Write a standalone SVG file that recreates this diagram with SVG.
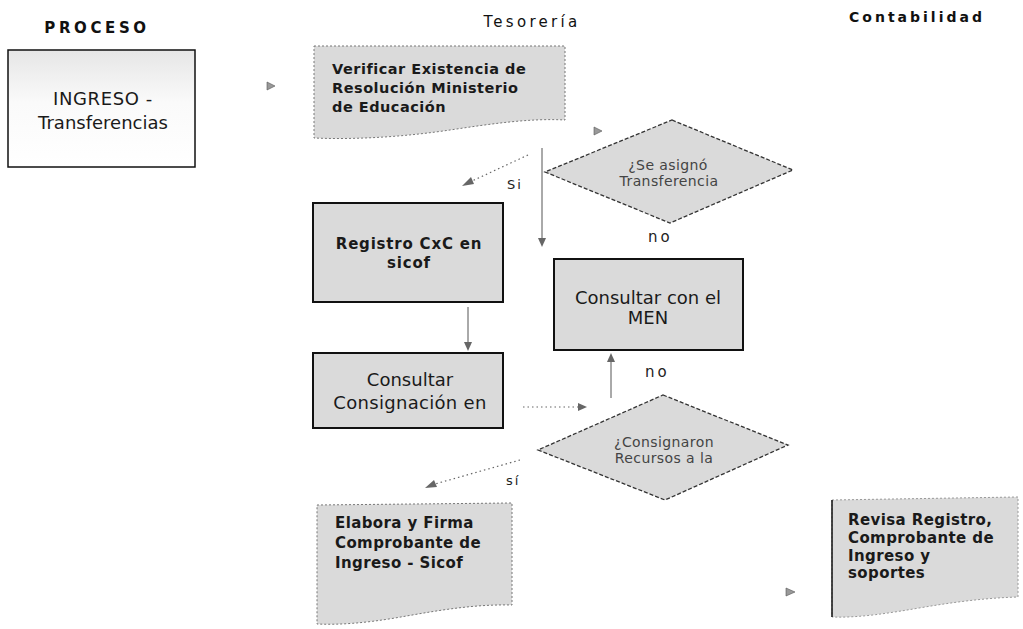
<svg xmlns="http://www.w3.org/2000/svg" width="1023" height="629" viewBox="0 0 1023 629">
<defs>
<style>
.hdr{font-family:"DejaVu Sans",sans-serif;font-weight:bold;font-size:14px;letter-spacing:3px;fill:#111}
.t{font-family:"DejaVu Sans",sans-serif;fill:#1a1a1a}
.b{font-weight:bold;font-size:15px;letter-spacing:0.4px}
.m{font-size:18px}
.sm{font-size:14px;fill:#444;letter-spacing:0.4px}
.lab{font-family:"DejaVu Sans",sans-serif;font-size:14px;fill:#222;letter-spacing:2px}
.fill{fill:#dadada}
.box{fill:#dadada;stroke:#111;stroke-width:2}
.doc{fill:#dadada;stroke:#777;stroke-width:1;stroke-dasharray:2 2}
.dia{fill:#dadada;stroke:#333;stroke-width:1.3;stroke-dasharray:4 2}
.solid{stroke:#555;stroke-width:1;fill:none}
.dot{stroke:#666;stroke-width:1.2;fill:none;stroke-dasharray:1.5 3}
.ah{fill:#666}
.tip{fill:#999;stroke:#555;stroke-width:0.6}
</style>
<linearGradient id="gIng" x1="0" y1="0" x2="0" y2="1">
<stop offset="0" stop-color="#e6e6e6"/>
<stop offset="0.45" stop-color="#fafafa"/>
<stop offset="1" stop-color="#ffffff"/>
</linearGradient>
</defs>
<rect width="1023" height="629" fill="#ffffff"/>

<text class="hdr" x="97" y="33" text-anchor="middle" style="font-size:15px;letter-spacing:3.6px">PROCESO</text>
<text class="hdr" x="532" y="27" text-anchor="middle" style="font-weight:normal;font-size:15px;letter-spacing:3.3px">Tesorería</text>
<text class="hdr" x="917" y="22" text-anchor="middle">Contabilidad</text>

<g id="node-ingreso">
<rect x="8" y="50" width="187" height="117" fill="url(#gIng)" stroke="#111" stroke-width="1.5"/>
<text class="t m" x="103" y="105" text-anchor="middle" style="letter-spacing:0.6px">INGRESO -</text>
<text class="t m" x="103" y="129" text-anchor="middle">Transferencias</text>
</g>

<g id="node-verificar">
<path class="doc" d="M314,46 L565,46 L565,120 C530,118 490,124 450,130 C410,136 360,140 314,138 Z"/>
<text class="t b" x="332" y="74" style="font-size:14.5px;letter-spacing:0.5px">Verificar Existencia de</text>
<text class="t b" x="332" y="93" style="font-size:14.5px;letter-spacing:0.5px">Resolución Ministerio</text>
<text class="t b" x="332" y="112" style="font-size:14.5px;letter-spacing:0.5px">de Educación</text>
</g>

<g id="node-decision1">
<polygon class="dia" points="672,120 793,170 670,223 545,172"/>
<text class="t sm" x="668" y="170" text-anchor="middle">¿Se asignó</text>
<text class="t sm" x="669" y="186" text-anchor="middle">Transferencia</text>
</g>

<g id="node-registro">
<rect class="box" x="313" y="203" width="190" height="99"/>
<text class="t b" x="409" y="249" text-anchor="middle" style="letter-spacing:0.8px">Registro CxC en</text>
<text class="t b" x="409" y="268" text-anchor="middle" style="letter-spacing:0.8px">sicof</text>
</g>

<g id="node-consultar-men">
<rect class="box" x="554" y="259" width="189" height="91"/>
<text class="t m" x="648" y="304" text-anchor="middle">Consultar con el</text>
<text class="t m" x="648" y="324" text-anchor="middle">MEN</text>
</g>

<g id="node-consultar-consignacion">
<rect class="box" x="313" y="353" width="190" height="75"/>
<text class="t m" x="410" y="386" text-anchor="middle">Consultar</text>
<text class="t m" x="410" y="409" text-anchor="middle" style="letter-spacing:0.3px">Consignación en</text>
</g>

<g id="node-decision2">
<polygon class="dia" points="663,395 788,445 665,500 538,450"/>
<text class="t sm" x="664" y="447" text-anchor="middle">¿Consignaron</text>
<text class="t sm" x="664" y="463" text-anchor="middle">Recursos a la</text>
</g>

<g id="node-elabora">
<path class="fill" d="M317,505 L512,503 L512,605 C470,604 430,612 395,618 C365,623 340,625 317,624 Z" stroke="#777" stroke-width="1" stroke-dasharray="2 2"/>
<text class="t b" x="335" y="528">Elabora y Firma</text>
<text class="t b" x="335" y="548">Comprobante de</text>
<text class="t b" x="335" y="568">Ingreso - Sicof</text>
</g>

<g id="node-revisa">
<path class="fill" d="M832,500 L1018,497 L1018,597 C985,598 955,602 925,607 C890,613 860,618 832,617 Z" stroke="#999" stroke-width="1" stroke-dasharray="2 2"/>
<line x1="832" y1="500" x2="832" y2="617" stroke="#111" stroke-width="1.5"/>
<text class="t b" x="848" y="525">Revisa Registro,</text>
<text class="t b" x="848" y="543">Comprobante de</text>
<text class="t b" x="848" y="561">Ingreso y</text>
<text class="t b" x="848" y="578">soportes</text>
</g>

<g id="connectors">
<polygon class="tip" points="267,82 275,86 267,90"/>
<polygon class="tip" points="594,127 602,131 594,135"/>
<polygon class="tip" points="786,588 795,592 786,596"/>
<line class="solid" x1="542" y1="148" x2="542" y2="240"/>
<polygon class="ah" points="538,238 546,238 542,247"/>
<line class="dot" x1="528" y1="155" x2="472" y2="181"/>
<polygon class="ah" points="462,186 471,177 474,184"/>
<text class="lab" x="507" y="189" style="font-size:13px">Si</text>
<text class="lab" x="648" y="242" style="font-size:15px;letter-spacing:3px">no</text>
<line class="solid" x1="468" y1="307" x2="468" y2="344"/>
<polygon class="ah" points="464,342 472,342 468,351"/>
<line class="dot" x1="523" y1="407" x2="578" y2="407"/>
<polygon class="ah" points="578,403 587,407 578,411"/>
<line class="solid" x1="611" y1="398" x2="611" y2="360"/>
<polygon class="ah" points="607,362 615,362 611,353"/>
<text class="lab" x="645" y="377" style="font-size:15px;letter-spacing:3px">no</text>
<line class="dot" x1="520" y1="460" x2="435" y2="484"/>
<polygon class="ah" points="425,488 434,480 437,487"/>
<text class="lab" x="506" y="485" style="font-size:13px">sí</text>
</g>
</svg>
